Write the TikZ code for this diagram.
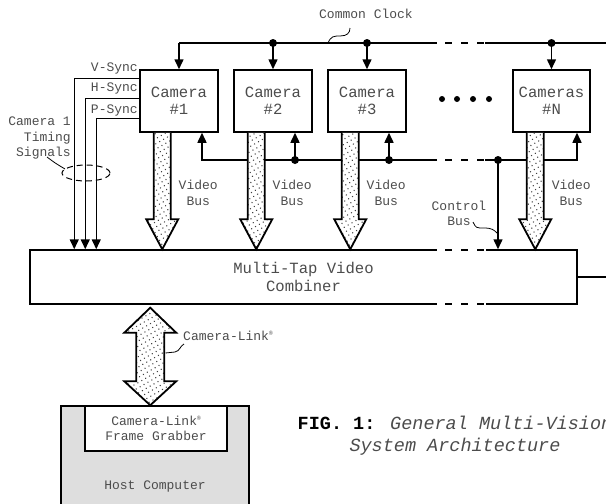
\documentclass[tikz,border=0pt]{standalone}
\usepackage{fontspec}
\setmainfont{Liberation Mono}
\usetikzlibrary{arrows.meta,patterns.meta,calc}
\newcommand\fsmall{\fontsize{13}{15.5}\selectfont}
\newcommand\fbig{\fontsize{15.6}{17.5}\selectfont}
\newcommand\fcap{\fontsize{18.5}{22}\selectfont}
\newcommand\regmark{{\fontsize{6}{6}\selectfont\raisebox{5pt}{®}}}
\definecolor{txt}{gray}{0.3}
\newcommand\vidarrow[1]{%
  \path ($(#1.south west)+(23,0)$) coordinate (va) (va |- comb.north) coordinate (vb);
  \draw[vbus] ($(va)+(-8.5,0)$) -- ($(vb)+(-8.5,-30)$) -- ($(vb)+(-16,-30)$) -- (vb)
     -- ($(vb)+(16,-30)$) -- ($(vb)+(8.5,-30)$) -- ($(va)+(8.5,0)$);}
\begin{document}
\begin{tikzpicture}[x=1pt,y=-1pt,
  box/.style={draw,line width=1.5pt,fill=white,inner sep=0pt,font=\fbig,text=txt,align=center},
  bus/.style={line width=1.5pt},
  arr/.style={bus,-{Triangle[length=10pt,width=9pt]}},
  lbl/.style={font=\fsmall,text=txt,align=center,inner sep=0pt},
  jdot/.style={circle,fill=black,inner sep=0pt,minimum size=8pt},
  gapdash/.style={bus,dash pattern=on 7pt off 9pt},
  lead/.style={line width=0.8pt},
  vbus/.style={line width=1.8pt,preaction={fill=white},pattern={Dots[distance=4.5pt,radius=0.75pt,angle=30]},pattern color=black!75,line join=miter}]
\useasboundingbox (0,0) rectangle (606,504);
\clip (0,0) rectangle (606,504);

% cameras
\node[box,minimum width=78pt,minimum height=62pt] (cam1) at (179,101) {Camera\\\#1};
\node[box,minimum width=78pt,minimum height=62pt] (cam2) at (273,101) {Camera\\\#2};
\node[box,minimum width=78pt,minimum height=62pt] (cam3) at (367,101) {Camera\\\#3};
\node[box,minimum width=77pt,minimum height=62pt] (camN) at (551.5,101) {Cameras\\\#N};
\foreach \x in {442,457,473,489} \fill (\x,99) circle (3pt);

% combiner
\node[box,minimum width=547pt,minimum height=54pt] (comb) at (303.5,277) {Multi-Tap Video\\Combiner};
\fill[white] (437,247) rectangle (486,253);
\fill[white] (437,301) rectangle (486,307);
\draw[gapdash] (445,250) -- (485,250);
\draw[gapdash] (445,304) -- (485,304);
\draw[bus] (comb.east) -- (606,277);

% common clock
\coordinate (ck1) at (179,43);
\draw[bus] (ck1) -- (437,43);
\draw[gapdash] (445,43) -- (485,43);
\draw[bus] (485,43) -- (606,43);
\draw[arr] (ck1) -- (cam1.north);
\node[jdot] (ck2) at (273,43) {};
\node[jdot] (ck3) at (367,43) {};
\node[jdot] (ckN) at (551.5,43) {};
\draw[arr] (ck2.center) -- (cam2.north);
\draw[arr] (ck3.center) -- (cam3.north);
\draw[arr] (ckN.center) -- (camN.north);
\node[lbl] (ccl) at (366,14) {Common Clock};
\draw[lead] (328,43) .. controls (331,36) and (334,36) .. (340,36) .. controls (347,36) and (350,33) .. (350,28);

% control bus
\coordinate (cb1) at (202,160);
\node[jdot] (cb2) at (295,160) {};
\node[jdot] (cb3) at (389,160) {};
\node[jdot] (cbc) at (498,160) {};
\coordinate (cbN) at (577,160);
\draw[arr] (437,160) -- (cb1) -- (cam1.south -| cb1);
\draw[gapdash] (445,160) -- (485,160);
\draw[arr] (485,160) -- (cbN) -- (camN.south -| cbN);
\draw[arr] (cb2.center) -- (cam2.south -| cb2);
\draw[arr] (cb3.center) -- (cam3.south -| cb3);
\draw[arr] (cbc.center) -- (comb.north -| cbc);
\node[lbl] (cbl) at (459,213.5) {Control\\Bus};
\draw[lead] (473,222) .. controls (476,228) .. (484,228) .. controls (492,228) and (494,230) .. (497,233);

% video buses
\vidarrow{cam1}
\vidarrow{cam2}
\vidarrow{cam3}
\vidarrow{camN}
\node[lbl] (vl1) at ($(cam1.south west)+(59,60)$) {Video\\Bus};
\node[lbl] (vl2) at ($(cam2.south west)+(59,60)$) {Video\\Bus};
\node[lbl] (vl3) at ($(cam3.south west)+(59,60)$) {Video\\Bus};
\node[lbl] (vlN) at ($(camN.south west)+(59,60)$) {Video\\Bus};

% sync signals
\draw[arr] ($(cam1.north west)+(0,9)$) -| ($(comb.north west)+(45,0)$);
\draw[arr] ($(cam1.north west)+(0,29)$) -| ($(comb.north west)+(56,0)$);
\draw[arr] ($(cam1.north west)+(0,49)$) -| ($(comb.north west)+(67,0)$);
\node[lbl,anchor=east] (vsl) at (138,68.5) {V-Sync};
\node[lbl,anchor=east] (hsl) at (138,88.5) {H-Sync};
\node[lbl,anchor=east] (psl) at (138,110) {P-Sync};
\node[lbl,align=right,anchor=east] (tsl) at (71,138) {Camera 1\\Timing\\Signals};
\draw[dashed,dash pattern=on 6pt off 4pt,line width=1pt] (86,173) ellipse [x radius=24pt, y radius=8pt];
\draw[lead] (47,157) .. controls (55,163) .. (65,169);

% host
\node[draw,line width=1.5pt,fill=black!13,minimum width=188pt,minimum height=120pt,inner sep=0pt] (host) at (155,466) {};
\node[lbl] (hcl) at (155,486) {Host Computer};
\node[box,font=\fsmall,minimum width=142pt,minimum height=45pt] (fg) at (156,428.5) {Camera-Link\regmark\\Frame Grabber};

% camera link double arrow
\coordinate (dt) at ($(comb.south west)+(121,3)$);
\coordinate (db) at ($(host.north west)+(90,0)$);
\draw[vbus] (dt) -- ($(dt)+(26,25)$) -- ($(dt)+(14,25)$) -- ($(db)+(14,-24)$) -- ($(db)+(26,-24)$) -- (db)
  -- ($(db)+(-26,-24)$) -- ($(db)+(-14,-24)$) -- ($(dt)+(-14,25)$) -- ($(dt)+(-26,25)$) -- cycle;
\node[lbl,anchor=west] (cll) at (183,336) {Camera-Link\regmark};
\draw[lead] (165.5,353) -- (175,352) .. controls (180,351) and (180,346) .. (184,344);

% caption
\node[font=\fcap,align=center,inner sep=0pt] (cap) at (455,436) {\textbf{FIG. 1:}\textcolor{txt}{\textit{ General Multi-Vision}}\\\textcolor{txt}{\textit{System Architecture}}};
\end{tikzpicture}
\end{document}
